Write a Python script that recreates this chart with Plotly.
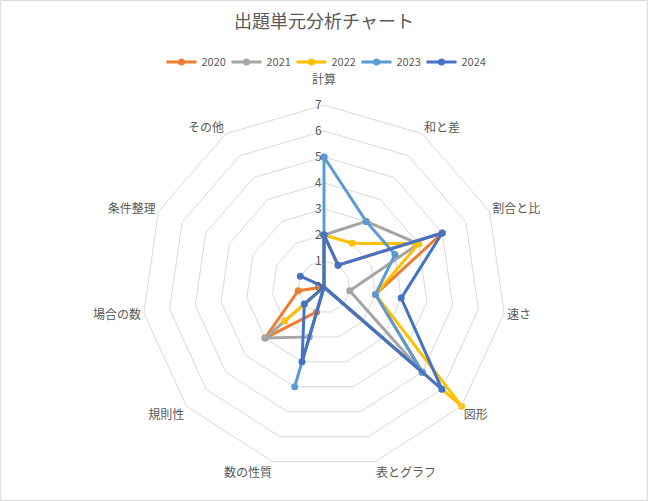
import plotly.graph_objects as go

categories = ["計算", "和と差", "割合と比", "速さ", "図形", "表とグラフ",
              "数の性質", "規則性", "場合の数", "条件整理", "その他"]
years = ["2020", "2021", "2022", "2023", "2024"]
v2020 = [2, 1, 5, 2, 5, 0, 1, 3, 1, 0, 0]
v2021 = [2, 3, 4, 1, 5, 0, 2, 3, 0, 0, 0]
v2022 = [2, 2, 4, 2, 7, 0, 0, 2, 0, 0, 0]
v2023 = [5, 3, 3, 2, 5, 0, 4, 0, 0, 0, 0]
v2024 = [2, 1, 5, 3, 6, 0, 3, 1, 0, 1, 0]
colors = ["#ED7D31", "#A5A5A5", "#FFC000", "#5B9BD5", "#4472C4"]
tick_vals = [0, 1, 2, 3, 4, 5, 6, 7]

series = [v2020, v2021, v2022, v2023, v2024]
FONT = "Noto Sans CJK JP"

# the top label sits a little further out in the reference
cat_text = [c + "<br><span style='font-size:5px'> </span>" if i == 0 else c
            for i, c in enumerate(categories)]

fig = go.Figure()
for name, vals, col in zip(years, series, colors):
    fig.add_trace(go.Scatterpolar(
        r=vals + vals[:1],
        theta=categories + categories[:1],
        mode="lines+markers",
        name=name,
        line=dict(color=col, width=3),
        marker=dict(color=col, size=7),
    ))

fig.update_layout(
    width=648, height=501,
    margin=dict(l=0, r=0, t=0, b=0),
    paper_bgcolor="white",
    plot_bgcolor="white",
    font=dict(family=FONT, color="#595959", size=12),
    title=dict(text="出題単元分析チャート", x=0.5, xanchor="center",
               y=0.956, yanchor="middle",
               font=dict(family=FONT, size=18, color="#595959")),
    legend=dict(orientation="h", x=0.5, xanchor="center", y=0.876,
                yanchor="middle", font=dict(family=FONT, size=11, color="#595959"),
                bgcolor="rgba(0,0,0,0)",
                itemwidth=30, entrywidth=20, entrywidthmode="pixels",
                tracegroupgap=0),
    polar=dict(
        domain=dict(x=[142/648, 506/648], y=[1-469/501, 1-105/501]),
        bgcolor="white",
        gridshape="linear",
        angularaxis=dict(direction="clockwise", rotation=90,
                         showgrid=False, showline=True, linecolor="#D9D9D9",
                         linewidth=1, ticks="",
                         tickmode="array", tickvals=categories, ticktext=cat_text,
                         tickfont=dict(family=FONT, size=12, color="#595959")),
        radialaxis=dict(range=[0, 7], tickvals=tick_vals, showline=False,
                        ticks="", angle=90, side="counterclockwise", tickangle=90,
                        gridcolor="#D9D9D9", gridwidth=1,
                        tickfont=dict(family=FONT, size=12, color="#595959")),
    ),
    shapes=[dict(type="rect", xref="paper", yref="paper", x0=0.001, y0=0.001,
                 x1=0.999, y1=0.999, line=dict(color="#D9D9D9", width=1))],
)

fig.write_html("out.html", config={"displayModeBar": False},
               post_script="document.body.style.margin='0';document.body.style.overflow='hidden';")
